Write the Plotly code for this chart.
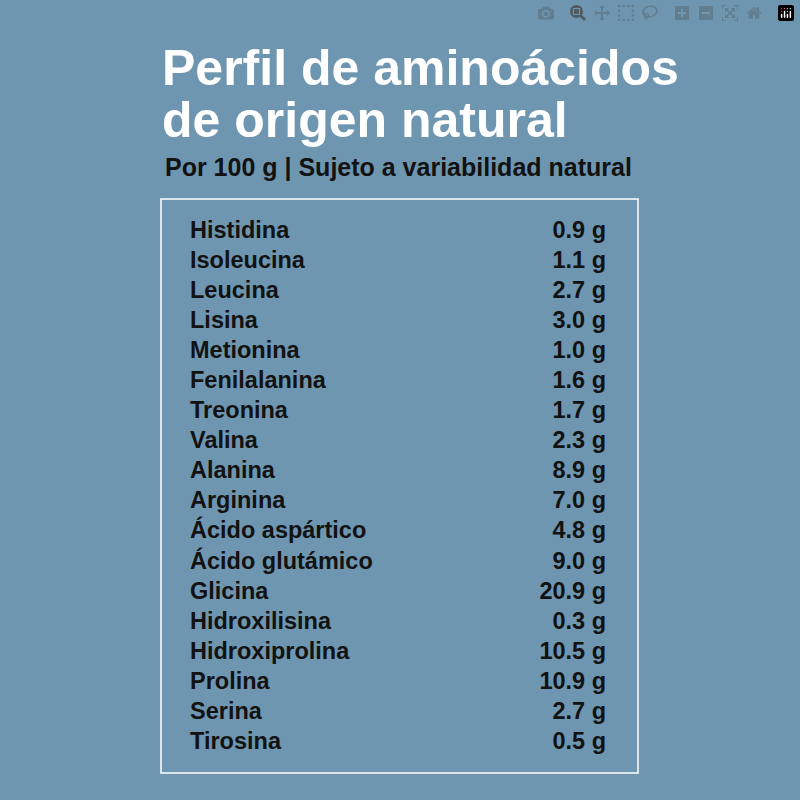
import plotly.graph_objects as go

names = ["Histidina","Isoleucina","Leucina","Lisina","Metionina","Fenilalanina","Treonina","Valina",
         "Alanina","Arginina","Ácido aspártico","Ácido glutámico","Glicina","Hidroxilisina",
         "Hidroxiprolina","Prolina","Serina","Tirosina"]
values = [0.9,1.1,2.7,3.0,1.0,1.6,1.7,2.3,8.9,7.0,4.8,9.0,20.9,0.3,10.5,10.9,2.7,0.5]
title_lines = ["Perfil de aminoácidos", "de origen natural"]
subtitle = "Por 100 g | Sujeto a variabilidad natural"

BG = "#6e96b0"
FONT = "Liberation Sans"
idx = list(range(len(names)))
fig = go.Figure()
fig.add_trace(go.Scatter(x=[190]*len(names), y=idx, mode="text", text=names,
                         textposition="middle right",
                         textfont=dict(family=FONT, size=23.5, color="#121212", weight="bold"),
                         hoverinfo="skip"))
fig.add_trace(go.Scatter(x=[606]*len(names), y=idx, mode="text",
                         text=[f"{v:.1f} g" for v in values],
                         textposition="middle left",
                         textfont=dict(family=FONT, size=23.5, color="#121212", weight="bold"),
                         hoverinfo="skip"))
sp = 30.06
fig.update_layout(
    width=800, height=800, margin=dict(l=0, r=0, t=0, b=0),
    paper_bgcolor=BG, plot_bgcolor=BG, showlegend=False,
    xaxis=dict(range=[0, 800], visible=False),
    yaxis=dict(range=[(800-232)/sp, -232/sp], visible=False),
)
for line, yp in zip(title_lines, [68, 120]):
    fig.add_annotation(x=160/800, y=1-yp/800, xref="paper", yref="paper", text=line,
                       showarrow=False, xanchor="left", yanchor="middle",
                       font=dict(family=FONT, size=50, color="white", weight="bold"))
fig.add_annotation(x=163/800, y=1-167/800, xref="paper", yref="paper", text=subtitle,
                   showarrow=False, xanchor="left", yanchor="middle",
                   font=dict(family=FONT, size=25, color="#121212", weight="bold"))
fig.add_shape(type="rect", xref="paper", yref="paper", x0=161/800, x1=638/800,
              y0=1-773/800, y1=1-199/800, line=dict(color="white", width=1.5))
fig.write_html("out.html", post_script="document.body.style.margin='0';document.body.style.background='%s';" % BG)
